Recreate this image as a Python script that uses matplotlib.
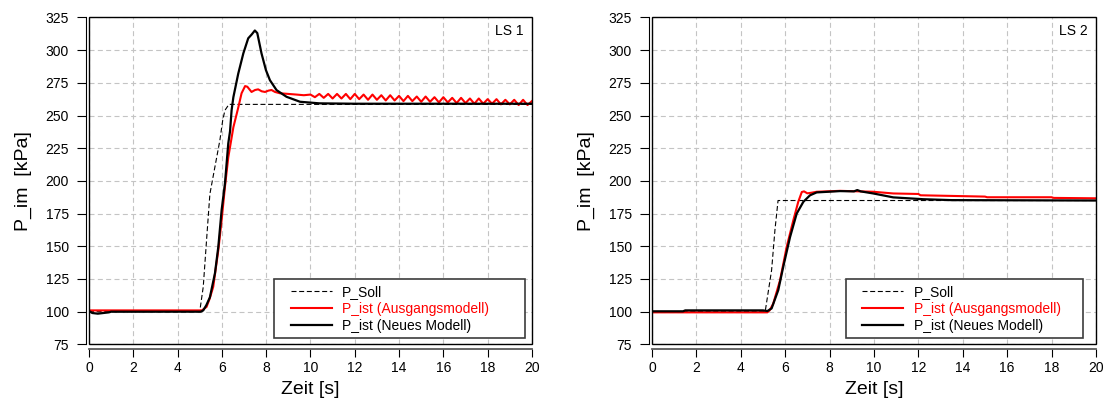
import matplotlib.pyplot as plt
from matplotlib.lines import Line2D
from matplotlib.legend_handler import HandlerLine2D
from matplotlib.patches import Rectangle

plt.rcParams['font.family'] = ['Liberation Sans', 'DejaVu Sans']

# LS 1 -- Sollwert und Istwerte des Saugrohrdrucks
ls1_soll_t = [0, 5.0, 5.16, 5.34, 5.46, 5.69, 5.91, 6.04, 6.14, 6.32, 20]
ls1_soll_p = [100, 100, 119, 162, 190, 211, 231, 246.5, 254, 258.5, 258.5]

ls1_alt_t = [0, 5.1, 5.31, 5.45, 5.61, 5.84, 5.99, 6.14, 6.29, 6.52, 6.74, 6.89,
             7.05, 7.15, 7.34, 7.5, 7.64, 7.8, 7.95, 8.1, 8.24, 8.4, 8.62, 9.0,
             9.37, 9.7,
             10.0, 10.2, 10.4, 10.6, 10.8, 11.0, 11.2, 11.4, 11.6, 11.8,
             12.0, 12.2, 12.4, 12.6, 12.8, 13.0, 13.2, 13.4, 13.6, 13.8,
             14.0, 14.2, 14.4, 14.6, 14.8, 15.0, 15.2, 15.4, 15.6, 15.8,
             16.0, 16.2, 16.4, 16.6, 16.8, 17.0, 17.2, 17.4, 17.6, 17.8,
             18.0, 18.2, 18.4, 18.6, 18.8, 19.0, 19.2, 19.4, 19.6, 19.8, 20.0]
ls1_alt_p = [101, 101, 103.7, 110, 119, 147, 170, 195.5, 218, 241, 256, 267,
             272.5, 272, 268, 269.5, 270, 268.5, 268, 269, 269.5, 268, 267, 266.5,
             266, 265.5,
             266, 264, 266.5, 263.5, 266.5, 263, 266.5, 263, 266.5, 262.5,
             266.5, 262.5, 266, 262, 266, 262, 265.5, 261.5, 265.5, 261.5,
             265, 261, 265, 261, 264.5, 260.5, 264.5, 260.5, 264, 260,
             264, 260, 263.5, 259.5, 263.5, 259.5, 263, 259, 263, 259,
             262.5, 259, 262.5, 258.5, 262, 258.5, 262, 258, 262, 258, 261]

ls1_neu_t = [0, 0.15, 0.4, 0.9, 1.0, 5.05, 5.16, 5.3, 5.46, 5.69, 5.84, 5.99,
             6.14, 6.29, 6.37, 6.44, 6.52, 6.74, 6.97, 7.19, 7.35, 7.49, 7.6,
             7.79, 7.99, 8.17, 8.47, 8.92, 9.53, 10.4, 12.0, 20.0]
ls1_neu_p = [100.5, 99, 98.5, 99.5, 100, 100, 101, 105, 111, 129.5, 149.6, 177.7,
             198, 228.7, 238, 254, 264, 282, 297.5, 309, 312, 315, 313,
             297.5, 284.7, 277, 269.4, 264.3, 260.5, 259.3, 259, 259]

# LS 2
ls2_soll_t = [0, 5.1, 5.39, 5.54, 5.68, 20]
ls2_soll_p = [100, 100, 131.8, 162.4, 185, 185]

ls2_alt_t = [0, 5.2, 5.3, 5.46, 5.77, 6.07, 6.37, 6.59, 6.75, 6.85, 7.0, 7.2,
             7.42, 8.47, 9.97, 10.87, 12.0, 12.1, 15.0, 15.1, 18.0, 18.1, 20.0]
ls2_alt_p = [99.5, 99.5, 101, 106, 124, 149.6, 170, 184, 191.5, 192, 190.5, 191,
             191.7, 192.4, 191.7, 190.4, 190, 189, 188, 187.5, 187.5, 187, 186.7]

ls2_neu_t = [0, 1.4, 1.5, 5.0, 5.2, 5.39, 5.69, 5.91, 6.22, 6.52, 6.82, 7.12,
             7.42, 8.47, 9.1, 9.25, 9.4, 9.97, 10.87, 12.22, 13.5, 20.0]
ls2_neu_p = [100.3, 100.3, 101, 101, 100.5, 102.5, 116.5, 134, 157, 175, 184, 189,
             191.2, 192.2, 192, 193, 192, 190.4, 187.4, 186, 185.3, 185]

labels = ['P_Soll', 'P_ist (Ausgangsmodell)', 'P_ist (Neues Modell)']
x_ticks = list(range(0, 21, 2))
y_ticks = list(range(75, 326, 25))

fig = plt.figure(figsize=(11.05, 4.0), dpi=100)
ax1 = fig.add_axes([0.0805, 0.139, 0.4009, 0.8175])
ax2 = fig.add_axes([0.590, 0.139, 0.4018, 0.8175])

panels = [
    (ax1, 'LS 1', (ls1_soll_t, ls1_soll_p), (ls1_alt_t, ls1_alt_p), (ls1_neu_t, ls1_neu_p), 0.4176, 0.5666),
    (ax2, 'LS 2', (ls2_soll_t, ls2_soll_p), (ls2_alt_t, ls2_alt_p), (ls2_neu_t, ls2_neu_p), 0.4363, 0.5338),
]

for ax, tag, soll, alt, neu, leg_x, leg_w in panels:
    l_soll, = ax.plot(*soll, color='black', lw=0.8, ls=(0, (4.5, 2.4)), zorder=2)
    l_alt, = ax.plot(*alt, color='#ff0000', lw=1.5, zorder=3)
    l_neu, = ax.plot(*neu, color='black', lw=1.6, zorder=3)

    ax.set_xlim(0, 20)
    ax.set_ylim(75, 325)
    ax.set_xticks(x_ticks)
    ax.set_yticks(y_ticks)
    ax.grid(True, color='#c4c4c4', lw=0.8, ls=(0, (4.5, 3)))
    ax.set_axisbelow(True)

    # detached axis lines plus a closed frame around the plot area
    ax.spines['top'].set_visible(False)
    ax.spines['right'].set_visible(False)
    ax.spines['left'].set_position(('outward', 2.4))
    ax.spines['left'].set_linewidth(0.8)
    ax.spines['bottom'].set_position(('outward', 3.4))
    ax.spines['bottom'].set_linewidth(1.3)
    ax.spines['bottom'].set_color('#5a5a5a')
    ax.add_patch(Rectangle((0, 0), 1, 1, transform=ax.transAxes, fill=False,
                           lw=1.0, ec='black', clip_on=False, zorder=5))

    ax.tick_params(axis='y', direction='out', length=6.5, width=0.8, pad=5.5, labelsize=10)
    ax.tick_params(axis='x', direction='out', length=5.5, width=0.8, pad=3, labelsize=10)

    ax.set_xlabel('Zeit [s]', fontsize=14)
    ax.set_ylabel('P_im  [kPa]', fontsize=14)
    ax.xaxis.set_label_coords(0.5, -0.113)
    ax.yaxis.set_label_coords(-0.128, 0.5)

    ax.text(0.982, 0.958, tag, transform=ax.transAxes, ha='right', va='center', fontsize=10)

    leg = ax.legend([l_soll, l_alt, l_neu], labels, loc='upper left',
                    bbox_to_anchor=(leg_x, 0.0, leg_w, 0.1988), mode='expand',
                    borderaxespad=0, fontsize=10, fancybox=False, framealpha=1,
                    edgecolor='#3c3c3c', borderpad=0.4, labelspacing=0.2,
                    handlelength=3.76, handletextpad=0.76,
                    labelcolor=['black', '#ff0000', 'black'],
                    handler_map={Line2D: HandlerLine2D(xpad=0.81)})
    leg.get_frame().set_linewidth(1.2)
    leg.set_zorder(6)

fig.savefig('out.png', dpi=100)
